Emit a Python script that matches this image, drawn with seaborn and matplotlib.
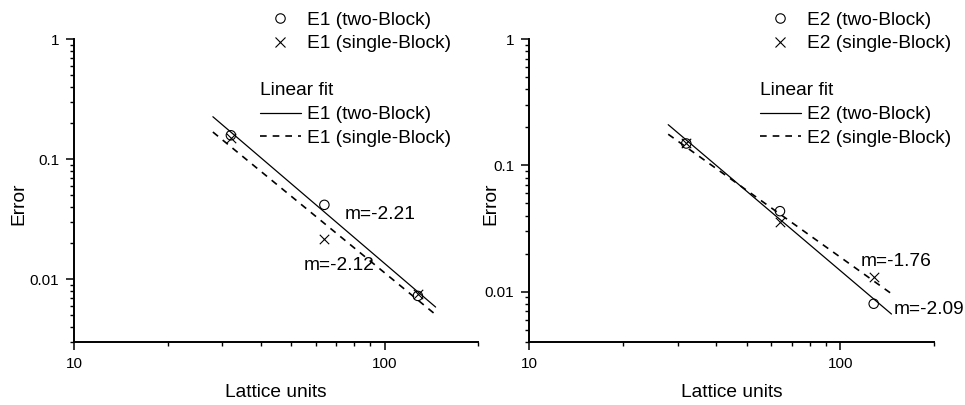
import numpy as np
import pandas as pd
import matplotlib
matplotlib.use("Agg")
import matplotlib.pyplot as plt
from matplotlib.ticker import LogLocator, FuncFormatter, NullFormatter
from matplotlib.lines import Line2D
import seaborn as sns

# Grid resolution (lattice units) and measured errors
lattice = [32, 64, 128]
e1_two = [0.158, 0.0416, 0.00726]
e1_single = [0.150, 0.0217, 0.0076]
e2_two = [0.149, 0.0434, 0.00803]
e2_single = [0.150, 0.0355, 0.0131]

# Slopes of the linear fits in log-log space
slope_e1_two = -2.21
slope_e1_single = -2.12
slope_e2_two = -2.09
slope_e2_single = -1.76

# Lattice range covered by the fit lines
fit_span = [28, 146]

x_limits = (10, 200)
y_limits_e1 = (0.003, 1)
y_limits_e2 = (0.004, 1)

sns.set_theme(style="ticks")
plt.rcParams["font.family"] = ["Liberation Sans", "DejaVu Sans"]
plt.rcParams["axes.linewidth"] = 1.4
for key in ("text.color", "axes.labelcolor", "xtick.color", "ytick.color",
            "axes.edgecolor"):
    plt.rcParams[key] = "black"

FS = 13.8
TICK_FS = 11
DASH_LW = 1.2
DASHES = [4.0, 3.6]


def fit_frame(x, y, m):
    lx, ly = np.log10(x), np.log10(y)
    b = ly.mean() - m * lx.mean()
    xs = np.array(fit_span, dtype=float)
    return pd.DataFrame({"x": xs, "y": 10 ** (b + m * np.log10(xs))})


def draw_panel(ax, name, two, single, m_two, m_single, ylim, ann_two, ann_single,
               legend_x, ylabel_x):
    x = np.array(lattice, dtype=float)
    two = np.array(two)
    single = np.array(single)
    ax.set_xscale("log")
    ax.set_yscale("log")

    sns.lineplot(data=fit_frame(x, two, m_two), x="x", y="y", color="black",
                 lw=0.9, ax=ax)
    sns.lineplot(data=fit_frame(x, single, m_single), x="x", y="y", color="black",
                 lw=DASH_LW, ax=ax)
    ax.lines[-1].set_dashes(DASHES)

    sns.scatterplot(x=x, y=two, marker="o", s=46, facecolor="none",
                    edgecolor="black", linewidth=0.8, ax=ax, zorder=3)
    sns.scatterplot(x=x, y=single, marker="x", s=46, color="black",
                    linewidth=0.8, ax=ax, zorder=3)

    ax.set_xlim(*x_limits)
    ax.set_ylim(*ylim)

    fmt = FuncFormatter(lambda v, p: f"{v:g}")
    ax.xaxis.set_major_locator(LogLocator(base=10))
    ax.xaxis.set_minor_locator(LogLocator(base=10, subs=np.arange(2, 10)))
    ax.yaxis.set_major_locator(LogLocator(base=10))
    ax.yaxis.set_minor_locator(LogLocator(base=10, subs=np.arange(2, 10)))
    ax.xaxis.set_major_formatter(fmt)
    ax.yaxis.set_major_formatter(fmt)
    ax.xaxis.set_minor_formatter(NullFormatter())
    ax.yaxis.set_minor_formatter(NullFormatter())
    ax.tick_params(which="major", direction="out", length=5.5, width=1.1,
                   labelsize=TICK_FS, color="black", labelcolor="black", pad=5)
    ax.tick_params(which="minor", direction="out", length=3.0, width=1.0,
                   color="black")
    sns.despine(ax=ax)

    ax.set_xlabel("Lattice units", fontsize=FS, color="black")
    ax.set_ylabel("Error", fontsize=FS, color="black")
    ax.xaxis.set_label_coords(0.5, -0.14)
    ax.yaxis.set_label_coords(ylabel_x, 0.455)

    ax.text(ann_two[0], ann_two[1], f"m={m_two:.2f}", fontsize=FS,
            ha="left", va="center", color="black")
    ax.text(ann_single[0], ann_single[1], f"m={m_single:.2f}", fontsize=FS,
            ha="left", va="center", color="black")

    marker_handles = [
        Line2D([], [], marker="o", ls="none", mfc="none", mec="black", ms=6.8, mew=0.8),
        Line2D([], [], marker="x", ls="none", color="black", ms=6.8, mew=0.8),
    ]
    labels = [f"{name} (two-Block)", f"{name} (single-Block)"]
    leg1 = ax.legend(marker_handles, labels, loc="upper left",
                     bbox_to_anchor=(legend_x, 1.090), frameon=False, fontsize=FS,
                     borderpad=0, borderaxespad=0, handlelength=2.15,
                     handletextpad=0.3, labelspacing=0.3, labelcolor="black")
    ax.add_artist(leg1)

    fit_handles = [
        Line2D([], [], color="black", lw=0.9),
        Line2D([], [], color="black", lw=DASH_LW, dashes=DASHES),
    ]
    leg2 = ax.legend(fit_handles, labels, title="Linear fit", loc="upper left",
                     bbox_to_anchor=(legend_x, 0.858), frameon=False, fontsize=FS,
                     title_fontsize=FS, alignment="left", borderpad=0,
                     borderaxespad=0, handlelength=2.15, handletextpad=0.3,
                     labelspacing=0.3, labelcolor="black")
    leg2.get_title().set_color("black")
    leg2._legend_box.sep = 5


fig = plt.figure(figsize=(9.65, 4.05), dpi=100)
ax1 = fig.add_axes([0.0767, 0.1556, 0.4187, 0.748])
ax2 = fig.add_axes([0.5482, 0.1556, 0.4197, 0.748])

draw_panel(ax1, "E1", e1_two, e1_single, slope_e1_two, slope_e1_single,
           y_limits_e1, (74.3, 0.0343), (54.9, 0.0130), 0.460, -0.116)
draw_panel(ax2, "E2", e2_two, e2_single, slope_e2_two, slope_e2_single,
           y_limits_e2, (148, 0.0072), (115.9, 0.0173), 0.570, -0.074)

fig.savefig("out.png", dpi=100)
